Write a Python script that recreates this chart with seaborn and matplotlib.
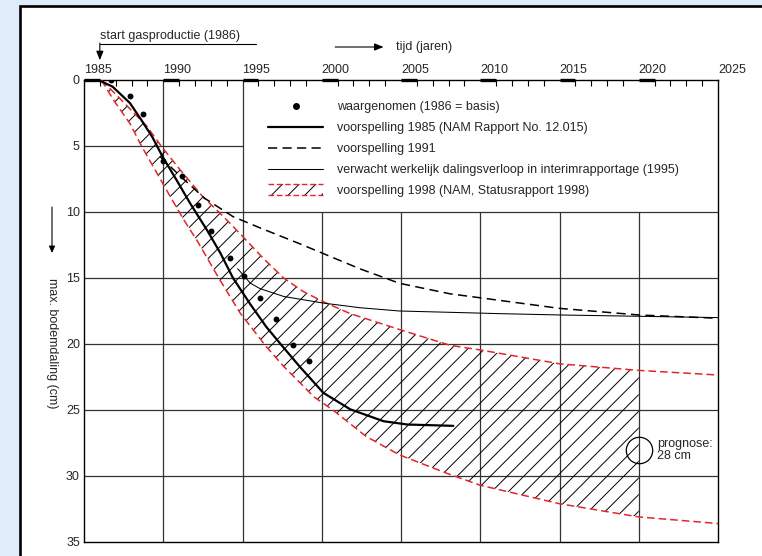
import numpy as np
import pandas as pd
import matplotlib
matplotlib.use("Agg")
import matplotlib.pyplot as plt
import seaborn as sns
from matplotlib.patches import Rectangle
from matplotlib.lines import Line2D
from matplotlib.legend_handler import HandlerBase

# ---------------- data ----------------
obs_year = [1986.7, 1987.9, 1988.7, 1990.0, 1991.2, 1992.2, 1993.0, 1994.2, 1995.1, 1996.1, 1997.1, 1998.2, 1999.2]
obs_cm = [0.0, 1.2, 2.6, 6.1, 7.25, 9.45, 11.45, 13.5, 14.85, 16.55, 18.1, 20.1, 21.25]

f85_year = [1985.9, 1986.8, 1987.9, 1988.6, 1989.3, 1990.0, 1990.85, 1991.7, 1992.75, 1993.6, 1994.4, 1995.5,
            1996.5, 1997.4, 1998.6, 2000.1, 2001.8, 2003.9, 2005.4, 2008.3]
f85_cm = [0.0, 0.5, 1.75, 3.0, 4.3, 5.9, 7.6, 9.35, 11.35, 13.1, 15.0, 17.0,
          18.7, 20.0, 21.7, 23.7, 24.95, 25.85, 26.1, 26.2]

f91_year = [1989.8, 1991.0, 1992.6, 1994.4, 1996.1, 1998.6, 2002.4, 2004.9, 2008.1, 2010.0, 2015.0, 2020.0, 2025.0]
f91_cm = [5.8, 7.2, 8.95, 10.35, 11.2, 12.4, 14.3, 15.4, 16.2, 16.5, 17.3, 17.8, 18.05]

f95_year = [1994.7, 1995.5, 1996.1, 1997.6, 2000.1, 2002.4, 2004.9, 2008.1, 2011.2, 2015.0, 2020.0, 2025.0]
f95_cm = [14.3, 15.4, 15.8, 16.4, 16.9, 17.25, 17.5, 17.6, 17.7, 17.8, 17.9, 18.0]

band_up_year = [1986.1, 1987.06, 1988.96, 1989.9, 1991.06, 1992.5, 1993.8, 1995.05, 1996.3, 1997.6, 1998.8,
                2000.1, 2001.8, 2004.9, 2008.1, 2010.0, 2015.0, 2020.0, 2025.0]
band_up_cm = [0.0, 1.15, 3.5, 5.05, 6.8, 8.85, 10.35, 11.9, 13.5, 15.0, 16.0,
              16.8, 17.7, 18.9, 20.1, 20.45, 21.5, 22.0, 22.35]

band_lo_year = [1986.1, 1986.85, 1987.9, 1988.65, 1989.6, 1990.45, 1991.3, 1992.2, 1993.5, 1994.85, 1996.5,
                1997.6, 1998.6, 1999.5, 2000.7, 2002.8, 2004.9, 2007.9, 2010.0, 2015.0, 2020.0, 2025.0]
band_lo_cm = [0.0, 1.5, 3.3, 5.05, 7.05, 8.85, 10.6, 12.3, 15.0, 17.65, 20.2,
              21.7, 22.9, 24.0, 25.0, 27.0, 28.4, 29.8, 30.7, 32.1, 33.1, 33.6]
hatch_end = 2020.0

prognose_year = 2020.0
prognose_cm = 28.0

x_major = [1985, 1990, 1995, 2000, 2005, 2010, 2015, 2020, 2025]
x_minor = list(range(1985, 2026))
y_ticks = [0, 5, 10, 15, 20, 25, 30, 35]

grid_h_short = [5]                 # ends at 1995 (legend area)
grid_h_full = [10, 15, 20, 25, 30]
grid_v_full = [1990, 1995]
grid_v_short = [2000, 2005, 2010, 2015, 2020]   # start at 10 cm (legend area)
legend_left, legend_bottom = 1995, 10

labels = ["waargenomen (1986 = basis)",
          "voorspelling 1985 (NAM Rapport No. 12.015)",
          "voorspelling 1991",
          "verwacht werkelijk dalingsverloop in interimrapportage (1995)",
          "voorspelling 1998 (NAM, Statusrapport 1998)"]

# ---------------- style ----------------
sns.set_theme(style="white")
plt.rcParams['font.family'] = ['Liberation Sans', 'DejaVu Sans']
plt.rcParams['hatch.linewidth'] = 0.7
FS = 9
RED = "#e3262b"
BG = "#deedf9"

fig = plt.figure(figsize=(7.62, 5.56), dpi=100, facecolor=BG)
fig.add_artist(Rectangle((20 / 762, -0.05), 1.0, 1 - 6 / 556 + 0.05, transform=fig.transFigure,
                         facecolor="white", edgecolor="black", lw=1.9, zorder=-1))

ax = fig.add_axes([84 / 762, 1 - 542 / 556, 634 / 762, 462 / 556])
ax.set_facecolor("white")

# grid lines (legend area left blank)
gkw = dict(color="#333333", lw=0.9, zorder=1)
ax.hlines(grid_h_short, 1985, legend_left, **gkw)
ax.hlines(grid_h_full, 1985, 2025, **gkw)
ax.vlines(grid_v_full, 0, 35, **gkw)
ax.vlines(grid_v_short, legend_bottom, 35, **gkw)

# hatched band 1998 (up to 2020)
px = [x for x in band_up_year if x <= hatch_end] + [x for x in band_lo_year if x <= hatch_end][::-1]
py = [y for x, y in zip(band_up_year, band_up_cm) if x <= hatch_end] + \
     [y for x, y in zip(band_lo_year, band_lo_cm) if x <= hatch_end][::-1]
ax.fill(px, py, facecolor="none", edgecolor="black", hatch="//", linewidth=0, zorder=2)

dash_red = (0, (5, 2.6))
sns.lineplot(x=band_up_year, y=band_up_cm, ax=ax, color=RED, lw=1.1, linestyle=dash_red, sort=False, estimator=None, zorder=3)
sns.lineplot(x=band_lo_year, y=band_lo_cm, ax=ax, color=RED, lw=1.1, linestyle=dash_red, sort=False, estimator=None, zorder=3)

sns.lineplot(x=f91_year, y=f91_cm, ax=ax, color="black", lw=1.1, linestyle=(0, (6, 3.5)), sort=False, estimator=None, zorder=4)
sns.lineplot(x=f95_year, y=f95_cm, ax=ax, color="black", lw=0.75, sort=False, estimator=None, zorder=4)
sns.lineplot(x=f85_year, y=f85_cm, ax=ax, color="black", lw=1.6, sort=False, estimator=None, zorder=4)
sns.scatterplot(x=obs_year, y=obs_cm, ax=ax, color="black", s=18, linewidth=0, zorder=5)

# prognose circle
ax.plot([prognose_year], [prognose_cm], marker="o", ms=19, mfc="none", mec="black", mew=0.9, zorder=6)
ax.text(prognose_year + 1.15, prognose_cm, "prognose:\n28 cm", fontsize=FS, ha="left", va="center", linespacing=1.0)

# axes
ax.set_xlim(1985, 2025)
ax.set_ylim(35, 0)
ax.set_xticks(x_major)
ax.set_xticklabels([str(v) for v in x_major])
ax.set_xticks([v for v in x_minor if v % 5], minor=True)
ax.xaxis.tick_top()
ax.tick_params(axis="x", which="major", length=0, pad=3, labelsize=FS, top=True, bottom=False)
ax.tick_params(axis="x", which="minor", direction="in", length=4, width=0.8, color="black", top=True, bottom=False)
for lab in ax.get_xticklabels():
    lab.set_ha("left")
ax.set_yticks(y_ticks)
ax.set_yticklabels([str(v) for v in y_ticks])
ax.tick_params(axis="y", length=0, pad=3, labelsize=FS)
ax.set_xlabel("")
ax.set_ylabel("")
for sp in ax.spines.values():
    sp.set_color("black")
    sp.set_linewidth(1.0)
ax.grid(False)

# thick bars at major ticks
ax.hlines([0] * (len(x_major) - 1), [v for v in x_major[:-1]], [v + 1 for v in x_major[:-1]],
          color="black", lw=2.4, clip_on=False, zorder=7)

# annotations above the axes
ax.text(1986, -3.3, "start gasproductie (1986)", fontsize=FS, ha="left", va="center", clip_on=False)
ax.plot([1986, 1995.85], [-2.75, -2.75], color="black", lw=0.8, clip_on=False)
ax.annotate("", xy=(1986, -1.5), xytext=(1986, -2.8), annotation_clip=False,
            arrowprops=dict(arrowstyle="-|>,head_length=0.45,head_width=0.18", color="black", lw=0.8, shrinkA=0, shrinkB=0))
ax.annotate("", xy=(2003.9, -2.5), xytext=(2000.85, -2.5), annotation_clip=False,
            arrowprops=dict(arrowstyle="-|>,head_length=0.45,head_width=0.18", color="black", lw=0.8, shrinkA=0, shrinkB=0))
ax.text(2004.7, -2.5, "tijd (jaren)", fontsize=FS, ha="left", va="center", clip_on=False)

# y label with arrow
fig.text(52 / 762, 1 - 343 / 556, "max. bodemdaling (cm)", rotation=270, fontsize=FS, ha="center", va="center")
fig.add_artist(matplotlib.patches.FancyArrowPatch((52 / 762, 1 - 207 / 556), (52 / 762, 1 - 253 / 556),
                                                  transform=fig.transFigure,
                                                  arrowstyle="-|>,head_length=4,head_width=1.8",
                                                  color="black", lw=0.8, shrinkA=0, shrinkB=0))


# legend
class BandHandle:
    pass


class BandHandler(HandlerBase):
    def create_artists(self, legend, orig_handle, xdescent, ydescent, width, height, fontsize, trans):
        x0, y0 = -xdescent, -ydescent - 1
        h = height + 2
        rect = Rectangle((x0, y0), width, h, facecolor="none", edgecolor="black", hatch="//", lw=0, transform=trans)
        top = Line2D([x0, x0 + width], [y0 + h, y0 + h], color=RED, lw=1.0, linestyle=(0, (4, 2)), transform=trans)
        bot = Line2D([x0, x0 + width], [y0, y0], color=RED, lw=1.0, linestyle=(0, (4, 2)), transform=trans)
        return [rect, top, bot]


handles = [Line2D([], [], marker="o", ls="none", color="black", ms=4),
           Line2D([], [], color="black", lw=1.6),
           Line2D([], [], color="black", lw=1.1, linestyle=(0, (6, 3.5))),
           Line2D([], [], color="black", lw=0.75),
           BandHandle()]
ax.legend(handles, labels, handler_map={BandHandle: BandHandler()},
          loc="upper left", bbox_to_anchor=((268 - 84) / 634, 1 - (101 - 80) / 462),
          frameon=False, borderaxespad=0, borderpad=0, handlelength=4.4, handletextpad=1.1,
          labelspacing=0.72, fontsize=FS, numpoints=1)

fig.savefig("out.png", dpi=100, facecolor=BG)
